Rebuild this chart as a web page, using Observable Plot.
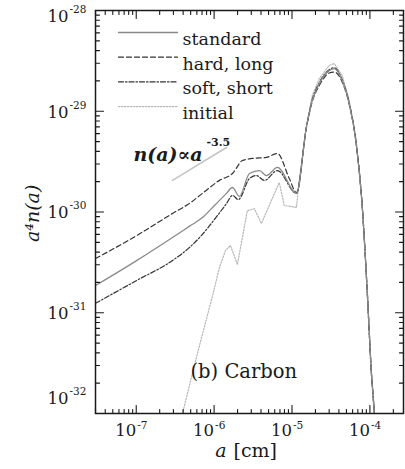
<!DOCTYPE html>
<html><head><meta charset="utf-8">
<script src="https://cdn.jsdelivr.net/npm/d3@7"></script>
<script src="https://cdn.jsdelivr.net/npm/@observablehq/plot@0.6"></script>
<style>body{margin:0;background:#fff}</style>
</head><body><div id="chart"></div>
<script>
// ---- data (grain radius a [cm], a^4 n(a)) ----
const standardA = [3.0e-8, 1.0e-7, 2.92e-7, 4.84e-7, 7.08e-7, 1.01e-6, 1.44e-6, 1.72e-6, 2.11e-6, 2.84e-6, 3.81e-6, 4.69e-6, 6.49e-6, 1.14e-5, 1.53e-5, 1.82e-5, 2.24e-5, 3.0e-5, 3.48e-5, 4.41e-5, 5.43e-5, 6.67e-5, 7.96e-5, 9.23e-5, 1.04e-4, 1.14e-4, 1.16e-4];
const standardV = [1.86e-31, 3.27e-31, 5.58e-31, 7.24e-31, 8.8e-31, 1.16e-30, 1.53e-30, 1.75e-30, 1.43e-30, 2.41e-30, 2.58e-30, 2.30e-30, 2.77e-30, 1.53e-30, 6.9e-30, 1.28e-29, 1.88e-29, 2.53e-29, 2.65e-29, 2.02e-29, 1.19e-29, 4.79e-30, 1.16e-30, 1.66e-31, 2.67e-32, 1.0e-32, 8e-33];

const hardA = [3.0e-8, 1.0e-7, 2.92e-7, 4.84e-7, 7.08e-7, 1.17e-6, 1.72e-6, 2.31e-6, 3.10e-6, 4.69e-6, 6.49e-6, 9.23e-6, 1.14e-5, 1.53e-5, 1.82e-5, 2.24e-5, 3.0e-5, 3.48e-5, 4.41e-5, 5.43e-5, 6.67e-5, 7.96e-5, 9.23e-5, 1.04e-4, 1.14e-4, 1.16e-4];
const hardV = [3.45e-31, 5.8e-31, 9.66e-31, 1.22e-30, 1.53e-30, 2.06e-30, 2.41e-30, 3.24e-30, 3.40e-30, 3.48e-30, 3.81e-30, 2.15e-30, 1.56e-30, 6.9e-30, 1.25e-29, 1.8e-29, 2.4e-29, 2.45e-29, 1.95e-29, 1.17e-29, 4.79e-30, 1.16e-30, 1.66e-31, 2.67e-32, 1.0e-32, 8e-33];

const softA = [3.0e-8, 1.0e-7, 2.92e-7, 4.84e-7, 7.08e-7, 1.10e-6, 1.44e-6, 1.72e-6, 2.05e-6, 2.84e-6, 3.48e-6, 4.42e-6, 6.49e-6, 1.14e-5, 1.53e-5, 1.82e-5, 2.24e-5, 3.0e-5, 3.48e-5, 4.41e-5, 5.43e-5, 6.67e-5, 7.96e-5, 9.23e-5, 1.04e-4, 1.14e-4, 1.16e-4];
const softV = [1.24e-31, 2.08e-31, 3.30e-31, 4.45e-31, 6.0e-31, 9.2e-31, 1.21e-30, 1.46e-30, 1.33e-30, 2.15e-30, 2.30e-30, 2.06e-30, 2.58e-30, 1.53e-30, 6.9e-30, 1.3e-29, 1.92e-29, 2.58e-29, 2.7e-29, 2.05e-29, 1.2e-29, 4.8e-30, 1.16e-30, 1.66e-31, 2.67e-32, 1.0e-32, 8e-33];

const initialA = [3.8e-7, 3.93e-7, 4.82e-7, 5.93e-7, 7.29e-7, 9.23e-7, 1.17e-6, 1.40e-6, 1.62e-6, 1.99e-6, 2.67e-6, 3.29e-6, 4.04e-6, 6.87e-6, 7.96e-6, 1.14e-5, 1.24e-5, 1.53e-5, 1.82e-5, 2.24e-5, 3.0e-5, 3.48e-5, 4.41e-5, 5.43e-5, 6.67e-5, 7.96e-5, 9.23e-5, 1.04e-4, 1.15e-4, 1.17e-4];
const initialV = [8e-33, 1.0e-32, 1.90e-32, 3.60e-32, 6.67e-32, 1.33e-31, 2.81e-31, 4.15e-31, 4.65e-31, 3.01e-31, 1.03e-30, 1.08e-30, 7.69e-31, 1.96e-30, 1.16e-30, 1.11e-30, 2.06e-30, 7.23e-30, 1.43e-29, 2.11e-29, 2.85e-29, 2.98e-29, 2.27e-29, 1.28e-29, 5.14e-30, 1.2e-30, 1.7e-31, 2.8e-32, 1.0e-32, 8e-33];

const powerA = [2.92e-7, 1.44e-6];
const powerV = [2.06e-30, 4.37e-30];

const xMajor = [1e-7, 1e-6, 1e-5, 1e-4];
const xExp = ["-7", "-6", "-5", "-4"];
const yMajor = [1e-28, 1e-29, 1e-30, 1e-31, 1e-32];
const yExp = ["-28", "-29", "-30", "-31", "-32"];
const legendLabels = ["standard", "hard, long", "soft, short", "initial"];

// ---- styling ----
const serif = "DejaVu Serif";
const ink = "#1a1a1a";
const styles = [
  {stroke: "#8a8a8a", strokeWidth: 1.3},
  {stroke: "#333", strokeWidth: 1.2, strokeDasharray: "5,3"},
  {stroke: "#333", strokeWidth: 1.2, strokeDasharray: "5,2,1.5,2"},
  {stroke: "#b8b8b8", strokeWidth: 1.2, strokeDasharray: "1.5,1.5"}
];
const curves = ["monotone-x", "monotone-x", "monotone-x", "linear"];

const zip = (A, V) => A.map((a, i) => ({a, v: V[i]}));
const series = [zip(standardA, standardV), zip(hardA, hardV), zip(softA, softV), zip(initialA, initialV)];

// minor ticks
const xMinor = [], yMinor = [];
for (let e = -8; e <= -4; e++) for (let k = 2; k <= 9; k++) { const v = k * 10 ** e; if (v > 3e-8 && v < 2.7e-4) xMinor.push(v); }
for (let e = -32; e <= -29; e++) for (let k = 2; k <= 9; k++) yMinor.push(k * 10 ** e);

const tickShape = {draw(ctx, l) { ctx.moveTo(0, 0); ctx.lineTo(0, -l); }};
const tk = {stroke: ink, strokeWidth: 1.1, shape: tickShape, anchor: "start"};
function ticksX(vals, len) {
  return [
    Plot.vector(vals, {x: d => d, frameAnchor: "bottom", length: len, rotate: 0, ...tk}),
    Plot.vector(vals, {x: d => d, frameAnchor: "top", length: len, rotate: 180, ...tk})
  ];
}
function ticksY(vals, len) {
  return [
    Plot.vector(vals, {y: d => d, frameAnchor: "left", length: len, rotate: 90, ...tk}),
    Plot.vector(vals, {y: d => d, frameAnchor: "right", length: len, rotate: 270, ...tk})
  ];
}
function yLabels(idx, dy) {
  const vals = idx.map(i => yMajor[i]);
  const ex = idx.map(i => yExp[i]);
  return [
    Plot.text(vals, {y: d => d, text: () => "10", frameAnchor: "left", textAnchor: "end", dx: -27, dy, fontSize: 16.5, fontFamily: serif, fill: ink}),
    Plot.text(vals, {y: d => d, text: (d, i) => ex[i], frameAnchor: "left", textAnchor: "start", dx: -26, dy: dy - 7, fontSize: 10.5, fontFamily: serif, fill: ink})
  ];
}

const legendMarks = legendLabels.flatMap((lab, i) => {
  const dy = 22 + i * 24.7;
  return [
    Plot.vector([lab], {frameAnchor: "top-left", dx: 23, dy, length: 59, rotate: 90, anchor: "start", shape: tickShape, ...styles[i]}),
    Plot.text([lab], {frameAnchor: "top-left", dx: 87, dy, text: d => d, textAnchor: "start", fontSize: 17.5, fontFamily: serif, fill: ink})
  ];
});

const chart = Plot.plot({
  width: 405, height: 469,
  marginLeft: 95, marginRight: 2, marginTop: 10, marginBottom: 56,
  style: {background: "#fff"},
  x: {type: "log", domain: [3e-8, 2.7e-4], axis: null},
  y: {type: "log", domain: [1e-32, 1e-28], axis: null},
  marks: [
    Plot.line(zip(powerA, powerV), {x: "a", y: "v", stroke: "#c4c4c4", strokeWidth: 1.6}),
    ...[3, 2, 1, 0].map(i => Plot.line(series[i], {x: "a", y: "v", clip: true, curve: curves[i], ...styles[i]})),
    Plot.frame({stroke: ink, strokeWidth: 1.5}),
    ...ticksX(xMajor, 8), ...ticksX(xMinor, 4),
    ...ticksY(yMajor, 8), ...ticksY(yMinor, 4),
    Plot.text(xMajor, {x: d => d, text: () => "10", frameAnchor: "bottom", textAnchor: "end", dy: 22, fontSize: 16.5, fontFamily: serif, fill: ink}),
    Plot.text(xMajor, {x: d => d, text: (d, i) => xExp[i], frameAnchor: "bottom", textAnchor: "start", dx: 1, dy: 15, fontSize: 10.5, fontFamily: serif, fill: ink}),
    ...yLabels([0], 6), ...yLabels([1, 2, 3], 1), ...yLabels([4], -15),
    Plot.text(["a"], {frameAnchor: "bottom", text: d => d, textAnchor: "end", dx: -23, dy: 43, fontSize: 19, fontStyle: "italic", fontFamily: serif, fill: ink}),
    Plot.text(["[cm]"], {frameAnchor: "bottom", text: d => d, textAnchor: "start", dx: -16, dy: 43, fontSize: 19, fontFamily: serif, fill: ink}),
    Plot.text(["a⁴n(a)"], {frameAnchor: "left", text: d => d, dx: -63, dy: 30, rotate: -90, fontSize: 19, fontStyle: "italic", fontFamily: serif, fill: ink}),
    ...legendMarks,
    Plot.text(["n(a)∝a"], {frameAnchor: "top-left", text: d => d, textAnchor: "start", dx: 38, dy: 137, fontSize: 19, fontStyle: "italic", fontWeight: "bold", fontFamily: serif, fill: ink}),
    Plot.text(["-3.5"], {frameAnchor: "top-left", text: d => d, textAnchor: "start", dx: 111, dy: 128, fontSize: 11, fontWeight: "bold", fontFamily: serif, fill: ink}),
    Plot.text(["(b) Carbon"], {frameAnchor: "bottom-left", text: d => d, textAnchor: "start", dx: 95, dy: -36, fontSize: 19.5, fontFamily: serif, fill: ink})
  ]
});
document.getElementById("chart").appendChild(chart);
</script>
</body></html>
